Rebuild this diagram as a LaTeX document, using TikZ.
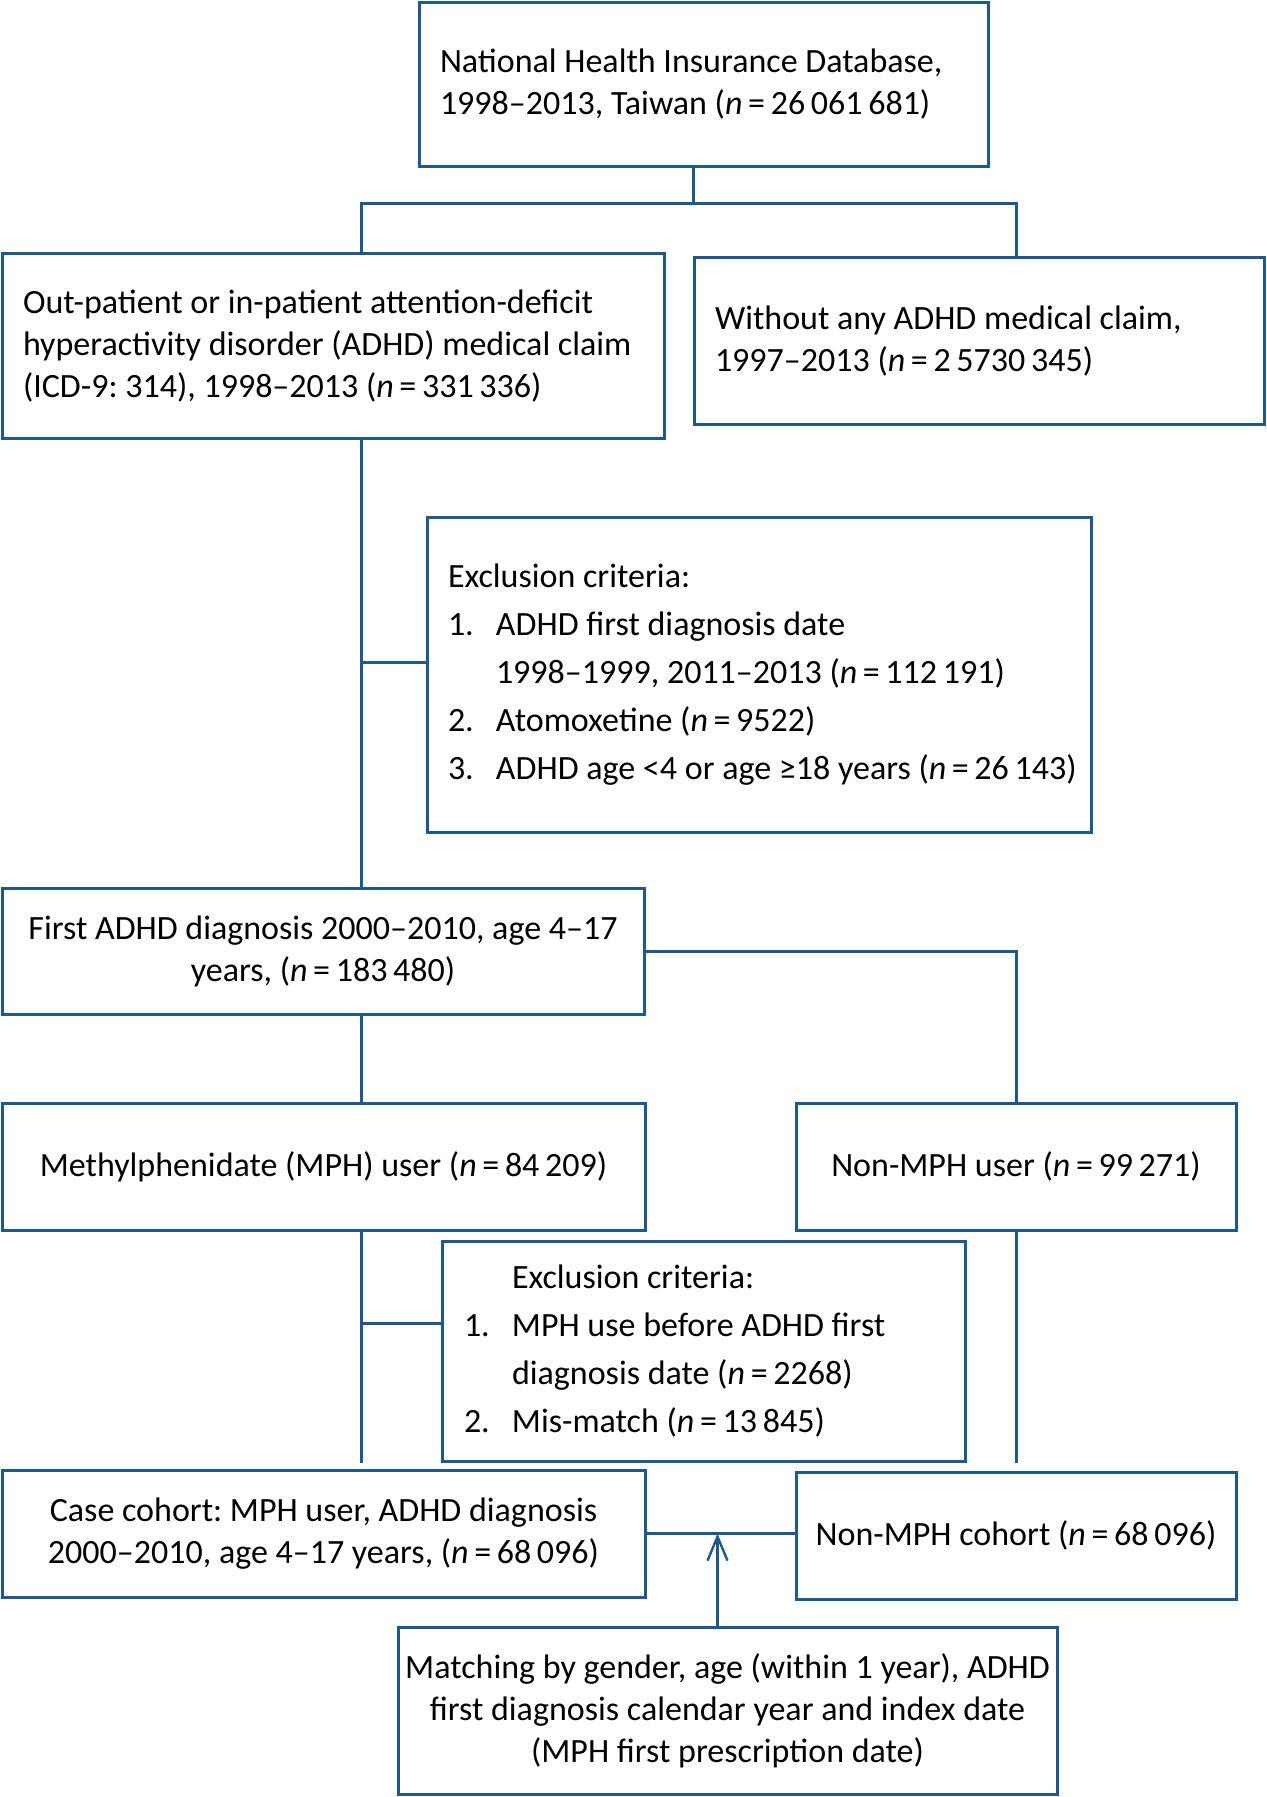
\documentclass[tikz,border=0pt]{standalone}
\usepackage{fontspec}
\setmainfont{Carlito}
\usetikzlibrary{arrows.meta}
\definecolor{colL}{RGB}{30,88,140}
\tikzstyle{box}=[draw=colL, line width=1.5pt, inner sep=0pt, text=black, font={\fontsize{17}{21}\selectfont}, execute at begin node={\spaceskip=0pt\xspaceskip=0pt\frenchspacing}]
\tikzstyle{lbox}=[box, align=left]
\tikzstyle{cbox}=[box, align=center]
\tikzstyle{ebox}=[lbox, font={\fontsize{17}{24}\selectfont}]
\tikzstyle{link}=[line width=1.5pt, colL]
\newcommand{\nn}[1]{\textit{n}\,=\,#1}
\newcommand{\itm}[2]{\mbox{\makebox[24pt][l]{#1}#2}}

\begin{document}
\begin{tikzpicture}[x=0.5pt,y=-0.5pt]
		\fill[white] (0,0) rectangle (1266,1797);
		\useasboundingbox (0,0) rectangle (1266,1797);
		\node[lbox, minimum width=284.5pt, minimum height=82pt, text width=263.5pt] (ndb) at (703.5,84.5) {\mbox{National Health Insurance Database,}\\ \mbox{1998–2013, Taiwan (\nn{26\,061\,681})}};
		\node[lbox, minimum width=331pt, minimum height=92pt, text width=310pt] (adhd) at (333,346) {\mbox{Out-patient or in-patient attention-deficit}\\ \mbox{hyperactivity disorder (ADHD) medical claim}\\ \mbox{(ICD-9: 314), 1998–2013 (\nn{331\,336})}};
		\node[lbox, minimum width=285pt, minimum height=83pt, text width=264pt] (noclaim) at (979,341) {Without any ADHD medical claim,\\ 1997–2013 (\nn{2\,5730\,345})};
		\node[ebox, minimum width=332pt, minimum height=157.5pt, text width=311pt] (excl1) at (759,674.5) {Exclusion criteria:\\ \itm{1.}{ADHD first diagnosis date}\\ \itm{}{1998–1999, 2011–2013 (\nn{112\,191})}\\ \itm{2.}{Atomoxetine (\nn{9522})}\\ \itm{3.}{ADHD age <4 or age ≥18 years (\nn{26\,143})}};
		\node[cbox, minimum width=321pt, minimum height=63pt] (first) at (323,951) {First ADHD diagnosis 2000–2010, age 4–17\\ years, (\nn{183\,480})};
		\node[cbox, minimum width=321.5pt, minimum height=63.5pt] (mph) at (323.5,1166.5) {Methylphenidate (MPH) user (\nn{84\,209})};
		\node[cbox, minimum width=220pt, minimum height=63.5pt] (nonmph) at (1016,1166.5) {Non-MPH user (\nn{99\,271})};
		\node[ebox, minimum width=261.5pt, minimum height=110pt, text width=239.5pt] (excl2) at (703.5,1351) {\itm{}{Exclusion criteria:}\\ \itm{1.}{MPH use before ADHD first}\\ \itm{}{diagnosis date (\nn{2268})}\\ \itm{2.}{Mis-match (\nn{13\,845})}};
		\node[cbox, minimum width=321.5pt, minimum height=63.5pt] (case) at (323.5,1533.5) {Case cohort: MPH user, ADHD diagnosis\\ 2000–2010, age 4–17 years, (\nn{68\,096})};
		\node[cbox, minimum width=220pt, minimum height=63.5pt] (nmcohort) at (1016,1535.5) {Non-MPH cohort (\nn{68\,096})};
		\node[cbox, minimum width=329.5pt, minimum height=83.5pt] (match) at (727.5,1710.5) {Matching by gender, age (within 1 year), ADHD\\ first diagnosis calendar year and index date\\ (MPH first prescription date)};
		\coordinate (split) at (693,204);
		\coordinate (lb) at (361,204);
		\coordinate (rb) at (1016,204);
		\coordinate (ex1) at (427,662);
		\coordinate (ex2) at (442,1323);
		\draw[link] (ndb.south -| split) -- (split);
		\draw[link] (adhd.north -| lb) -- (lb) -- (rb) -- (noclaim.north -| rb);
		\draw[link] (adhd.south -| lb) -- (first.north -| lb) (lb |- ex1) -- (ex1);
		\draw[link] (first.east) -| (nonmph.north);
		\draw[link] (first.south -| lb) -- (mph.north -| lb);
		\draw[link] (mph.south -| lb) -- (lb |- excl2.south) (lb |- ex2) -- (ex2);
		\draw[link] (nonmph.south) -- (nonmph.south |- excl2.south);
		\draw[link] (case.east) -- (case.east -| nmcohort.west);
		\draw[link, line width=1.2pt, -{Straight Barb[length=12pt,width=10pt]}] ([xshift=-5pt]match.north) -- ([xshift=-5pt]match.north |- case.east);
	\end{tikzpicture}
\end{document}
